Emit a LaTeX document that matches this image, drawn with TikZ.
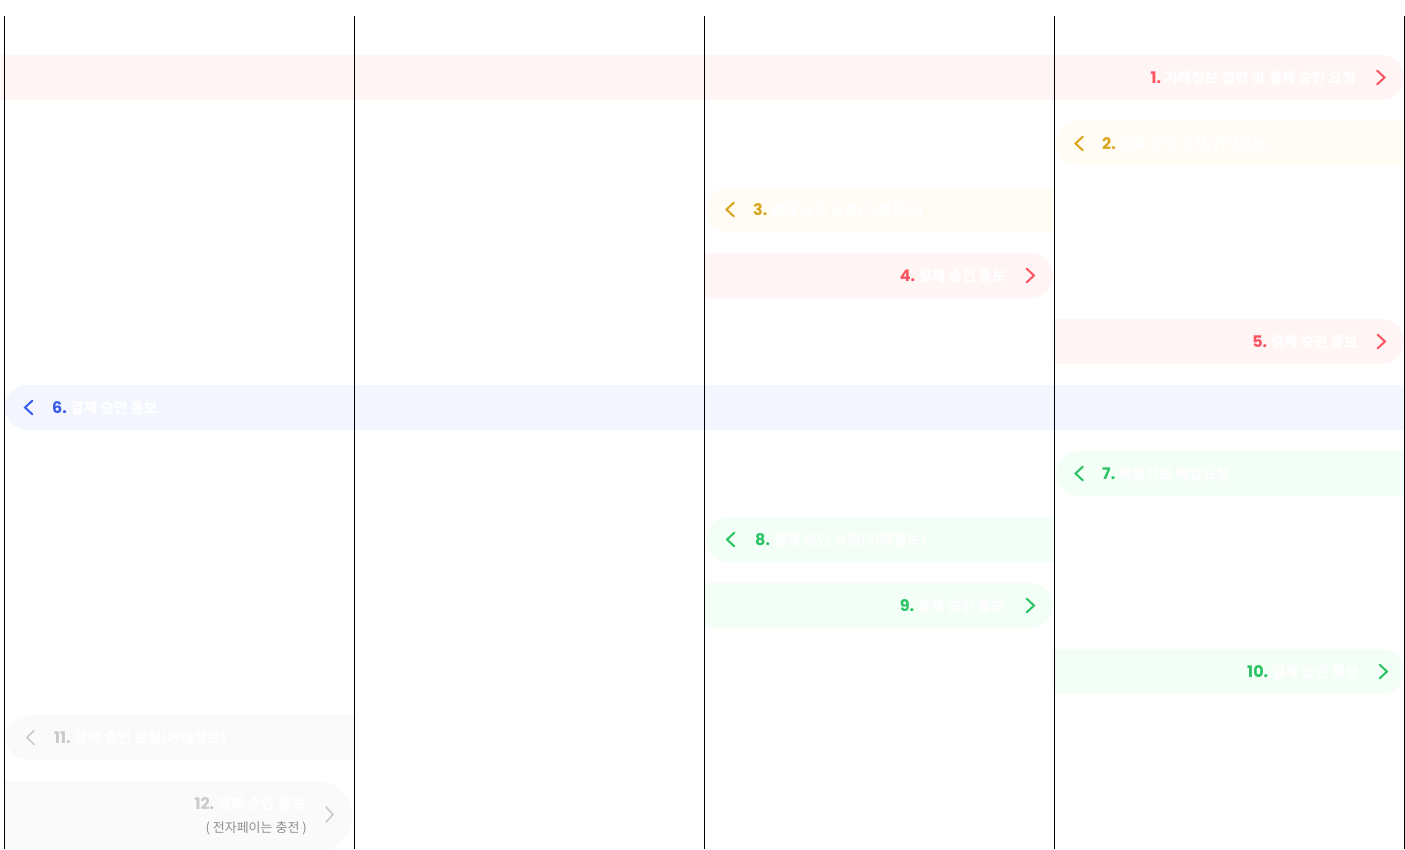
\documentclass[tikz,border=0pt]{standalone}
\usepackage{fontspec}
\newfontfamily\krfont{Noto Sans CJK KR}
\newfontfamily\numfont{Poppins}
\definecolor{redT}{HTML}{FA5560}
\definecolor{redB}{HTML}{FFF5F5}
\definecolor{yelT}{HTML}{D9A51C}
\definecolor{yelB}{HTML}{FFFCF5}
\definecolor{bluT}{HTML}{3A5CEB}
\definecolor{bluB}{HTML}{F3F6FE}
\definecolor{grnT}{HTML}{2BC463}
\definecolor{grnB}{HTML}{F2FEF6}
\definecolor{gryT}{HTML}{CACACA}
\definecolor{gryB}{HTML}{FAFAFA}
\definecolor{gryS}{HTML}{8E8E8E}
\newcommand{\nm}[2]{{\color{#1}\numfont\bfseries\fontsize{16}{18}\selectfont #2}}
% band with rounded right end: colour, x1, x2, ytop, ybot, radius
\newcommand{\bandR}[6]{\fill[#1] (#2,#4) rectangle (#3-#6,#5);\fill[#1,rounded corners=#6pt] (#2,#4) rectangle (#3,#5);}
% band with rounded left end
\newcommand{\bandL}[6]{\fill[#1] (#2+#6,#4) rectangle (#3,#5);\fill[#1,rounded corners=#6pt] (#2,#4) rectangle (#3,#5);}
\begin{document}
\begin{tikzpicture}[x=1pt,y=-1pt,
  lbl/.style={inner sep=0pt, text=white, font=\krfont\bfseries\fontsize{14.6}{16}\selectfont},
  sub/.style={inner sep=0pt, text=gryS, font=\krfont\fontsize{13}{15}\selectfont},
  chev/.style={line width=2pt, line cap=round, line join=miter},
  lane/.style={line width=1.2pt, black}]
\useasboundingbox (0,0) rectangle (1405,849);
\clip (0,0) rectangle (1405,849);
% bands
\bandR{redB}{1}{1404}{55}{100}{22.5}
\bandL{yelB}{1056}{1405}{121}{166}{22.5}
\bandL{yelB}{706}{1054}{187}{232}{22.5}
\bandR{redB}{704}{1053}{253}{298}{22.5}
\bandR{redB}{1054}{1404}{319}{364}{22.5}
\bandL{bluB}{5}{1405}{385}{430}{22.5}
\bandL{grnB}{1056}{1405}{451}{496}{22.5}
\bandL{grnB}{706}{1054}{517}{562}{22.5}
\bandR{grnB}{704}{1053}{583}{628}{22.5}
\bandR{grnB}{1054}{1404}{649}{694}{22.5}
\bandL{gryB}{6}{354}{715}{760}{22.5}
\bandR{gryB}{4}{352}{781}{851}{35}
% lanes
\coordinate (l1t) at (4.5,16);   \coordinate (l1b) at (4.5,849);
\coordinate (l2t) at (354.5,16); \coordinate (l2b) at (354.5,849);
\coordinate (l3t) at (704.5,16); \coordinate (l3b) at (704.5,849);
\coordinate (l4t) at (1054.5,16);\coordinate (l4b) at (1054.5,849);
\coordinate (l5t) at (1404.2,16);  \coordinate (l5b) at (1404.2,849);
\draw[lane] (l1t) -- (l1b);
\draw[lane] (l2t) -- (l2b);
\draw[lane] (l3t) -- (l3b);
\draw[lane] (l4t) -- (l4b);
\draw[lane, line width=1pt] (l5t) -- (l5b);
% labels
\node[lbl, anchor=base east] (t1) at (1356,83.5) {\nm{redT}{1.}~거래정보 입력 및 결제 승인 요청};
\node[lbl, anchor=base west] (t2) at (1102,149.5) {\nm{yelT}{2.}~결제 승인 요청(거래정보)};
\node[lbl, anchor=base west] (t3) at (753,215.5) {\nm{yelT}{3.}~결제 승인 요청(거래정보)};
\node[lbl, anchor=base east] (t4) at (1006,281.5) {\nm{redT}{4.}~결제 승인 통보};
\node[lbl, anchor=base east] (t5) at (1358,347.5) {\nm{redT}{5.}~결제 승인 통보};
\node[lbl, anchor=base west] (t6) at (52,413.5) {\nm{bluT}{6.}~결제 승인 통보};
\node[lbl, anchor=base west] (t7) at (1102,479.5) {\nm{grnT}{7.}~매출전표 매입요청};
\node[lbl, anchor=base west] (t8) at (755,545.5) {\nm{grnT}{8.}~결제 승인 요청(거래정보)};
\node[lbl, anchor=base east] (t9) at (1005,611.5) {\nm{grnT}{9.}~결제 승인 통보};
\node[lbl, anchor=base east] (t10) at (1359,677.5) {\nm{grnT}{10.}~결제 승인 통보};
\node[lbl, anchor=base west] (t11) at (54,743.5) {\nm{gryT}{11.}~결제 승인 요청(거래정보)};
\node[lbl, anchor=base east] (t12) at (305,809) {\nm{gryT}{12.}~결제 승인 통보};
\node[sub, anchor=base east] (t12b) at (307,832) {( 전자페이는 충전 )};
% chevrons
\draw[chev, redT] (1377,70.5) -- (1384.5,77.5) -- (1377,84.5);
\draw[chev, yelT] (1083,136.5) -- (1075.5,143.5) -- (1083,150.5);
\draw[chev, yelT] (734,202.5) -- (726.5,209.5) -- (734,216.5);
\draw[chev, redT] (1026.5,268.5) -- (1034,275.5) -- (1026.5,282.5);
\draw[chev, redT] (1377.5,334.5) -- (1385,341.5) -- (1377.5,348.5);
\draw[chev, bluT] (32.5,400.5) -- (25,407.5) -- (32.5,414.5);
\draw[chev, grnT] (1083,466.5) -- (1075.5,473.5) -- (1083,480.5);
\draw[chev, grnT] (734.5,532.5) -- (727,539.5) -- (734.5,546.5);
\draw[chev, grnT] (1026.5,598.5) -- (1034,605.5) -- (1026.5,612.5);
\draw[chev, grnT] (1379.5,664.5) -- (1387,671.5) -- (1379.5,678.5);
\draw[chev, gryT, line width=1.6pt] (34,730.5) -- (27,737.5) -- (34,744.5);
\draw[chev, gryT, line width=1.6pt] (326,807) -- (333,814.5) -- (326,822);
\end{tikzpicture}
\end{document}
